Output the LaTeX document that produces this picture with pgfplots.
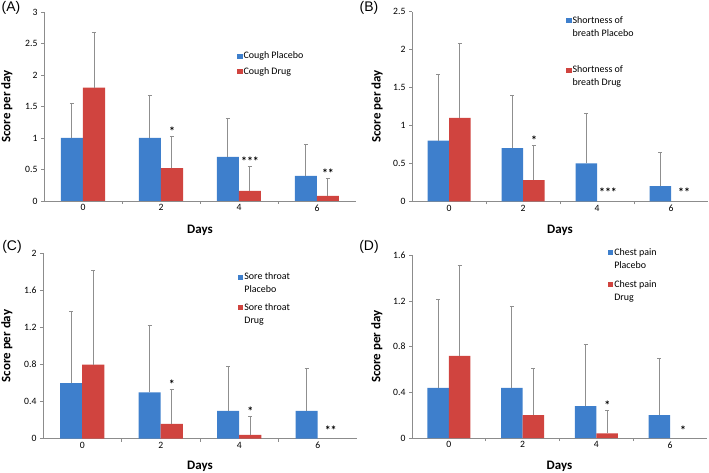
\documentclass[border=0pt]{standalone}
\usepackage{pgfplots}
\pgfplotsset{compat=1.18}
\usepackage{fontspec}
\setmainfont{Carlito}
\newfontfamily\arialf{Liberation Sans}
\definecolor{blueC}{HTML}{3E7FCC}
\definecolor{redC}{HTML}{D0443F}
\definecolor{axC}{HTML}{8C8C8C}
\definecolor{errC}{HTML}{8F8F8F}
\tikzset{sigstar/.style={anchor=base, font=\fontsize{12}{12}\selectfont\bfseries, xshift=#1}}
\pgfplotsset{
  panel/.style={
    scale only axis,
    anchor=south west,
    ybar=0pt,
    xmin=-0.5, xmax=3.5, ymin=0,
    axis x line*=bottom, axis y line*=left,
    axis line style={axC, line width=0.8bp, -},
    tick align=outside,
    major tick length=3bp,
    tick style={axC, line width=0.7bp},
    xtick={0.5,1.5,2.5}, xticklabels={},
    extra x ticks={0,1,2,3}, extra x tick labels={0,2,4,6},
    extra x tick style={major tick length=0pt},
    ticklabel style={font=\fontsize{9.7}{11}\selectfont, /pgf/number format/assume math mode=true},
    label style={font=\fontsize{13}{15}\selectfont\bfseries},
    xlabel={Days}, ylabel={Score per day},
    legend style={draw=none, fill=none, inner sep=0pt, anchor=north west,
      font=\fontsize{10}{13}\selectfont, nodes={inner sep=1bp, align=left}},
    legend cell align=left,
    clip=false,
  },
  err/.style={error bars/.cd, y dir=plus, y explicit, error mark=|,
    error bar style={errC, line width=1bp},
    error mark options={errC, mark size=2bp, line width=1bp}},
  limB/.style={legend image code/.code={\fill[blueC] (0bp,-2.6bp) rectangle (5.2bp,2.6bp);}},
  limR/.style={legend image code/.code={\fill[redC] (0bp,-2.6bp) rectangle (5.2bp,2.6bp);}},
  limB2/.style={legend image code/.code={\fill[blueC] (0bp,3.9bp) rectangle (5.2bp,9.1bp);}},
  limR2/.style={legend image code/.code={\fill[redC] (0bp,3.9bp) rectangle (5.2bp,9.1bp);}},
}
\begin{document}
\begin{tikzpicture}
\useasboundingbox (0,0) rectangle (709bp,473bp);
% ---------------- (A)
\begin{axis}[panel, at={(44bp,272bp)}, width=312bp, height=189bp,
  bar width=22bp, ymax=3, ytick={0,0.5,1,1.5,2,2.5,3},
  yticklabels={0,0.5,1,1.5,2,2.5,3},
  xlabel style={at={(axis description cs:0.5,-0.153)}, anchor=center},
  ylabel style={at={(axis description cs:-0.119,0.5)}, anchor=center},
  legend style={at={(axis description cs:0.619,0.795)}, row sep=5bp}]
\addplot[fill=blueC, draw=none, limB, err]
  coordinates {(0,1) +- (0,0.54) (1,1) +- (0,0.67) (2,0.7) +- (0,0.61) (3,0.4) +- (0,0.50)};
\addlegendentry{Cough Placebo}
\addplot[fill=redC, draw=none, limR, err]
  coordinates {(0,1.8) +- (0,0.88) (1,0.52) +- (0,0.51) (2,0.16) +- (0,0.39) (3,0.08) +- (0,0.28)};
\addlegendentry{Cough Drug}
\node[sigstar=11bp, yshift=1bp] at (axis cs:1,1.03) {*};
\node[sigstar=11bp, yshift=1bp] at (axis cs:2,0.55) {***};
\node[sigstar=11bp, yshift=1bp] at (axis cs:3,0.36) {**};
\end{axis}
\node[font=\arialf\fontsize{14}{16}\selectfont] at (11bp,465bp) {(A)};
% ---------------- (B)
\begin{axis}[panel, at={(412bp,271.7bp)}, width=296bp, height=189.6bp,
  bar width=21.5bp, ymax=2.5, ytick={0,0.5,1,1.5,2,2.5},
  yticklabels={0,0.5,1,1.5,2,2.5},
  xlabel style={at={(axis description cs:0.5,-0.151)}, anchor=center},
  ylabel style={at={(axis description cs:-0.118,0.5)}, anchor=center},
  legend style={at={(axis description cs:0.521,0.98)}, row sep=26bp}]
\addplot[fill=blueC, draw=none, limB2, err]
  coordinates {(0,0.8) +- (0,0.87) (1,0.7) +- (0,0.69) (2,0.5) +- (0,0.66) (3,0.2) +- (0,0.44)};
\addlegendentry{Shortness of\\breath Placebo}
\addplot[fill=redC, draw=none, limR2, err]
  coordinates {(0,1.1) +- (0,0.98) (1,0.28) +- (0,0.46)};
\addlegendentry{Shortness of\\breath Drug}
\node[sigstar=11bp, yshift=1bp] at (axis cs:1,0.74) {*};
\node[sigstar=11bp, yshift=5bp] at (axis cs:2,0) {***};
\node[sigstar=13bp, yshift=5bp] at (axis cs:3,0) {**};
\end{axis}
\node[font=\arialf\fontsize{14}{16}\selectfont] at (369bp,465bp) {(B)};
% ---------------- (C)
\begin{axis}[panel, at={(43bp,34.3bp)}, width=314bp, height=185.4bp,
  bar width=22bp, ymax=2, ytick={0,0.4,0.8,1.2,1.6,2},
  yticklabels={0,0.4,0.8,1.2,1.6,2},
  xlabel style={at={(axis description cs:0.5,-0.147)}, anchor=center},
  ylabel style={at={(axis description cs:-0.115,0.5)}, anchor=center},
  legend style={at={(axis description cs:0.621,0.90)}, row sep=7bp}]
\addplot[fill=blueC, draw=none, limB2, err]
  coordinates {(0,0.6) +- (0,0.77) (1,0.5) +- (0,0.72) (2,0.3) +- (0,0.48) (3,0.3) +- (0,0.46)};
\addlegendentry{Sore throat\\Placebo}
\addplot[fill=redC, draw=none, limR2, err]
  coordinates {(0,0.8) +- (0,1.01) (1,0.16) +- (0,0.37) (2,0.04) +- (0,0.20)};
\addlegendentry{Sore throat\\Drug}
\node[sigstar=11bp, yshift=1bp] at (axis cs:1,0.53) {*};
\node[sigstar=11bp, yshift=1bp] at (axis cs:2,0.24) {*};
\node[sigstar=13bp, yshift=4bp] at (axis cs:3,0) {**};
\end{axis}
\node[font=\arialf\fontsize{14}{16}\selectfont] at (12bp,226bp) {(C)};
% ---------------- (D)
\begin{axis}[panel, at={(412bp,35bp)}, width=295bp, height=182.7bp,
  bar width=21.5bp, ymax=1.6, ytick={0,0.4,0.8,1.2,1.6},
  yticklabels={0,0.4,0.8,1.2,1.6},
  xlabel style={at={(axis description cs:0.5,-0.153)}, anchor=center},
  ylabel style={at={(axis description cs:-0.119,0.5)}, anchor=center},
  legend style={at={(axis description cs:0.664,1.045)}, row sep=9bp}]
\addplot[fill=blueC, draw=none, limB2, err]
  coordinates {(0,0.44) +- (0,0.77) (1,0.44) +- (0,0.71) (2,0.28) +- (0,0.54) (3,0.2) +- (0,0.50)};
\addlegendentry{Chest pain\\Placebo}
\addplot[fill=redC, draw=none, limR2, err]
  coordinates {(0,0.72) +- (0,0.79) (1,0.2) +- (0,0.41) (2,0.04) +- (0,0.20)};
\addlegendentry{Chest pain\\Drug}
\node[sigstar=11bp, yshift=1bp] at (axis cs:2,0.24) {*};
\node[sigstar=13bp, yshift=4bp] at (axis cs:3,0) {*};
\end{axis}
\node[font=\arialf\fontsize{14}{16}\selectfont] at (369bp,226bp) {(D)};
\end{tikzpicture}
\end{document}
